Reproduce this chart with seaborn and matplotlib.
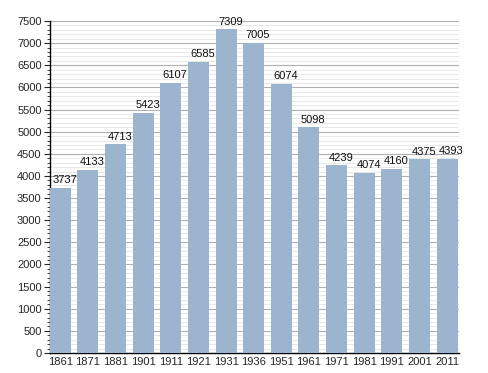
import matplotlib
matplotlib.use("Agg")
import matplotlib.pyplot as plt
import seaborn as sns
import pandas as pd
from matplotlib.ticker import MultipleLocator

years = ["1861", "1871", "1881", "1901", "1911", "1921", "1931", "1936",
         "1951", "1961", "1971", "1981", "1991", "2001", "2011"]
population = [3737, 4133, 4713, 5423, 6107, 6585, 7309, 7005,
              6074, 5098, 4239, 4074, 4160, 4375, 4393]

df = pd.DataFrame({"year": years, "pop": population})

sns.set_style("white")
plt.rcParams['font.family'] = ['Liberation Sans', 'DejaVu Sans']

fig = plt.figure(figsize=(4.88, 3.73), dpi=100)
ax = fig.add_axes([50/488, 20/373, 409/488, 332/373])

ax.yaxis.set_major_locator(MultipleLocator(500))
ax.yaxis.set_minor_locator(MultipleLocator(100))
ax.grid(which="major", axis="y", color="#b0b0b0", linewidth=0.8, zorder=0)
ax.grid(which="minor", axis="y", color="#e4e4e4", linewidth=0.6, zorder=0)
ax.set_axisbelow(True)

sns.barplot(data=df, x="year", y="pop", color="#9db4cf", saturation=1,
            width=0.76, linewidth=0, edgecolor="none", ax=ax, zorder=3)

for i, v in enumerate(population):
    ax.annotate(str(v), xy=(i, v), xytext=(3.2, 2), textcoords="offset points",
                ha="center", va="bottom", fontsize=8, color="#111111")

ax.set_ylim(0, 7500)
ax.set_xlim(-0.37, len(years) - 1 + 0.43)
ax.set_xlabel("")
ax.set_ylabel("")
for s in ["top", "right"]:
    ax.spines[s].set_visible(False)
ax.spines["left"].set_color("black")
ax.spines["bottom"].set_color("black")
ax.spines["left"].set_linewidth(1)
ax.spines["bottom"].set_linewidth(1)
ax.tick_params(axis="y", which="major", length=4, width=0.8, labelsize=8, left=True, direction="out", pad=2)
ax.tick_params(axis="y", which="minor", length=2, width=0.6, left=True, direction="out")
ax.tick_params(axis="x", length=0, labelsize=8, pad=3)

fig.savefig("out.png", dpi=100)
